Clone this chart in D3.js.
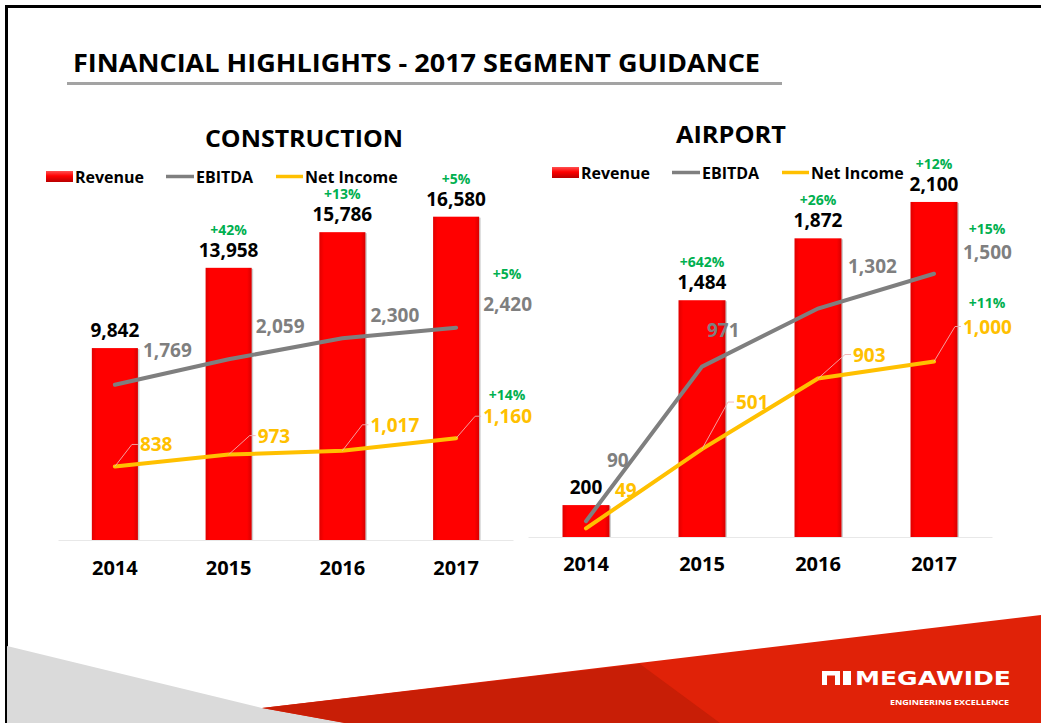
<!DOCTYPE html>
<html>
<head>
<meta charset="utf-8">
<script src="https://cdn.jsdelivr.net/npm/d3@7"></script>
<style>
html, body { margin: 0; padding: 0; background: #fff; }
svg { display: block; }
</style>
</head>
<body>
<svg id="slide" width="1041" height="723"></svg>
<script>
// values
var years = ["2014", "2015", "2016", "2017"];

var conRevenue = [9842, 13958, 15786, 16580];
var conEbitda = [1769, 2059, 2300, 2420];
var conNetIncome = [838, 973, 1017, 1160];
var conRevenueGrowth = ["", "+42%", "+13%", "+5%"];
var conEbitdaGrowth = ["", "", "", "+5%"];
var conNetGrowth = ["", "", "", "+14%"];

var airRevenue = [200, 1484, 1872, 2100];
var airEbitda = [90, 971, 1302, 1500];
var airNetIncome = [49, 501, 903, 1000];
var airRevenueGrowth = ["", "+642%", "+26%", "+12%"];
var airEbitdaGrowth = ["", "", "", "+15%"];
var airNetGrowth = ["", "", "", "+11%"];

var legendNames = ["Revenue", "EBITDA", "Net Income"];

var FONT = "'Open Sans', 'Liberation Sans', sans-serif";
var RED = "#ff0000", GRAY = "#7f7f7f", GOLD = "#ffc000", GREEN = "#00b050";
var fmt = d3.format(",");

var svg = d3.select("#slide").attr("font-family", FONT);

// gradients for the bars
var defs = svg.append("defs");
var hg = defs.append("linearGradient").attr("id", "barGrad").attr("x1", 0).attr("x2", 1).attr("y1", 0).attr("y2", 0);
hg.append("stop").attr("offset", "0%").attr("stop-color", "#e00000");
hg.append("stop").attr("offset", "10%").attr("stop-color", RED);
hg.append("stop").attr("offset", "90%").attr("stop-color", RED);
hg.append("stop").attr("offset", "100%").attr("stop-color", "#d80000");
var vg = defs.append("linearGradient").attr("id", "swatchGrad").attr("x1", 0).attr("x2", 0).attr("y1", 0).attr("y2", 1);
vg.append("stop").attr("offset", "0%").attr("stop-color", "#ff5050");
vg.append("stop").attr("offset", "45%").attr("stop-color", RED);
vg.append("stop").attr("offset", "100%").attr("stop-color", "#b80000");

// slide frame
svg.append("path").attr("d", "M6.5,723V6.5H1041")
	.attr("fill", "none").attr("stroke", "#000").attr("stroke-width", 3);

// bottom decoration
svg.append("path").attr("d", "M7,646L262,708L345,723L7,723Z").attr("fill", "#dadada");
svg.append("path").attr("d", "M262,708L1041,615L1041,723L345,723Z").attr("fill", "#e02208");
svg.append("path").attr("d", "M262,708L640,664L720,723L345,723Z").attr("fill", "#c81e06");

// logo
var logo = svg.append("g").attr("fill", "#fff");
logo.append("path").attr("d", "M822,671H840V685H835V675.5H827V685H822Z");
logo.append("rect").attr("x", 843).attr("y", 671).attr("width", 8).attr("height", 14);
logo.append("text").attr("x", 855).attr("y", 685).attr("font-family", "'DejaVu Sans', sans-serif")
	.attr("font-size", 19).attr("font-weight", 700)
	.attr("textLength", 156).attr("lengthAdjust", "spacingAndGlyphs").text("MEGAWIDE");
logo.append("text").attr("x", 890).attr("y", 704.5).attr("font-size", 7.5).attr("font-weight", 700)
	.attr("textLength", 119).attr("lengthAdjust", "spacingAndGlyphs").text("ENGINEERING EXCELLENCE");

// slide title
svg.append("text").attr("x", 73).attr("y", 72).attr("font-size", 24.5).attr("font-weight", 700)
	.attr("textLength", 687).attr("lengthAdjust", "spacingAndGlyphs")
	.text("FINANCIAL HIGHLIGHTS - 2017 SEGMENT GUIDANCE");
svg.append("line").attr("x1", 67).attr("x2", 782).attr("y1", 83.5).attr("y2", 83.5)
	.attr("stroke", "#a3a3a3").attr("stroke-width", 3);

var charts = [
	{
		title: "CONSTRUCTION", titleX: 205, titleY: 147, titleLen: 198,
		legendX: 46, legendY: 176.5,
		xRange: [58, 513], baseY: 540, topY: 189, revMax: 18000, lineMax: 4000, axisPad: 21,
		revenue: conRevenue, ebitda: conEbitda, net: conNetIncome,
		revGrowth: conRevenueGrowth, ebitdaGrowth: conEbitdaGrowth, netGrowth: conNetGrowth,
		// label nudges from each point: [dx to text start, dy to baseline]
		ebitdaNudge: [[28, -28], [27, -26], [28, -16], [27, -17]],
		netNudge: [[25, -15], [29, -12], [28, -19], [27, -15]],
		netLeader: [true, true, true, true],
		ebitdaGrowthDy: -32, netGrowthDy: -23
	},
	{
		title: "AIRPORT", titleX: 676, titleY: 143, titleLen: 110,
		legendX: 552, legendY: 172.5,
		xRange: [528, 992], baseY: 537, topY: 186, revMax: 2200, lineMax: 2000, axisPad: 20,
		revenue: airRevenue, ebitda: airEbitda, net: airNetIncome,
		revGrowth: airRevenueGrowth, ebitdaGrowth: airEbitdaGrowth, netGrowth: airNetGrowth,
		ebitdaNudge: [[21, -54], [5, -30], [30, -35], [29, -15]],
		netNudge: [[29, -31], [34, -40], [35, -17], [29, -28]],
		netLeader: [false, true, true, true],
		ebitdaGrowthDy: -25, netGrowthDy: -26
	}
];

charts.forEach(drawChart);

function drawChart(cfg) {
	var g = svg.append("g");

	var x = d3.scaleBand().domain(years).range(cfg.xRange)
		.paddingInner(0.595).paddingOuter(0.2975);
	var yRev = d3.scaleLinear().domain([0, cfg.revMax]).range([cfg.baseY, cfg.topY]);
	var yLine = d3.scaleLinear().domain([0, cfg.lineMax]).range([cfg.baseY, cfg.topY]);
	var cx = function(i) { return x(years[i]) + x.bandwidth() / 2; };

	// chart title
	g.append("text").attr("x", cfg.titleX).attr("y", cfg.titleY)
		.attr("font-size", 22.5).attr("font-weight", 700)
		.attr("textLength", cfg.titleLen).attr("lengthAdjust", "spacingAndGlyphs")
		.text(cfg.title);

	// legend
	var lg = g.append("g").attr("transform", "translate(" + cfg.legendX + "," + cfg.legendY + ")")
		.attr("font-size", 16).attr("font-weight", 700);
	lg.append("rect").attr("x", 0).attr("y", -5.5).attr("width", 27).attr("height", 11)
		.attr("fill", "url(#swatchGrad)");
	lg.append("text").attr("x", 29).attr("y", 6).text(legendNames[0]);
	lg.append("line").attr("x1", 120).attr("x2", 148).attr("y1", 0).attr("y2", 0)
		.attr("stroke", GRAY).attr("stroke-width", 3.5);
	lg.append("text").attr("x", 150).attr("y", 6).text(legendNames[1]);
	lg.append("line").attr("x1", 230).attr("x2", 257).attr("y1", 0).attr("y2", 0)
		.attr("stroke", GOLD).attr("stroke-width", 3.5);
	lg.append("text").attr("x", 259).attr("y", 6).text(legendNames[2]);

	// category axis
	var ax = g.append("g").attr("transform", "translate(0," + cfg.baseY + ")")
		.call(d3.axisBottom(x).tickSize(0).tickPadding(cfg.axisPad));
	ax.attr("font-family", FONT).attr("font-size", 20).attr("font-weight", 700);
	ax.select(".domain").attr("stroke", "#e8e8e8");
	ax.selectAll("text").attr("fill", "#000");

	// revenue bars
	g.selectAll(".shadow").data(cfg.revenue).enter().append("rect")
		.attr("class", "shadow")
		.attr("x", function(d, i) { return x(years[i]) + 1.5; })
		.attr("y", function(d) { return yRev(d) + 1; })
		.attr("width", x.bandwidth())
		.attr("height", function(d) { return cfg.baseY - yRev(d) - 1; })
		.attr("fill", "#a0a0a0").attr("opacity", 0.5);
	g.selectAll(".bar").data(cfg.revenue).enter().append("rect")
		.attr("class", "bar")
		.attr("x", function(d, i) { return x(years[i]); })
		.attr("y", function(d) { return yRev(d); })
		.attr("width", x.bandwidth())
		.attr("height", function(d) { return cfg.baseY - yRev(d); })
		.attr("fill", "url(#barGrad)");

	// lines
	var line = d3.line().x(function(d, i) { return cx(i); }).y(function(d) { return yLine(d); });
	g.append("path").datum(cfg.ebitda).attr("d", line)
		.attr("fill", "none").attr("stroke", GRAY).attr("stroke-width", 4).attr("stroke-linecap", "round");
	g.append("path").datum(cfg.net).attr("d", line)
		.attr("fill", "none").attr("stroke", GOLD).attr("stroke-width", 4).attr("stroke-linecap", "round");

	// revenue labels
	var valueFont = 19;
	g.selectAll(".revLabel").data(cfg.revenue).enter().append("text")
		.attr("x", function(d, i) { return cx(i); })
		.attr("y", function(d) { return yRev(d) - 11; })
		.attr("text-anchor", "middle").attr("font-size", valueFont).attr("font-weight", 700)
		.attr("fill", "#000").text(fmt);
	g.selectAll(".revGrowth").data(cfg.revGrowth).enter().append("text")
		.attr("x", function(d, i) { return cx(i); })
		.attr("y", function(d, i) { return yRev(cfg.revenue[i]) - 33; })
		.attr("text-anchor", "middle").attr("font-size", 14).attr("font-weight", 700)
		.attr("fill", GREEN).text(function(d) { return d; });

	// EBITDA labels
	g.selectAll(".ebLabel").data(cfg.ebitda).enter().append("text")
		.attr("x", function(d, i) { return cx(i) + cfg.ebitdaNudge[i][0]; })
		.attr("y", function(d, i) { return yLine(d) + cfg.ebitdaNudge[i][1]; })
		.attr("font-size", valueFont).attr("font-weight", 700).attr("fill", GRAY).text(fmt);
	g.selectAll(".ebGrowth").data(cfg.ebitdaGrowth).enter().append("text")
		.attr("x", function(d, i) { return cx(i) + cfg.ebitdaNudge[i][0] + 24; })
		.attr("y", function(d, i) { return yLine(cfg.ebitda[i]) + cfg.ebitdaNudge[i][1] + cfg.ebitdaGrowthDy; })
		.attr("text-anchor", "middle").attr("font-size", 14).attr("font-weight", 700)
		.attr("fill", GREEN).text(function(d) { return d; });

	// net income leaders and labels
	var leaderPts = cfg.net.map(function(v, i) { return { v: v, i: i }; })
		.filter(function(d) { return cfg.netLeader[d.i]; });
	g.selectAll(".leader").data(leaderPts).enter().append("polyline")
		.attr("points", function(d) {
			var px = cx(d.i), py = yLine(d.v);
			var lx = px + cfg.netNudge[d.i][0], ly = py + cfg.netNudge[d.i][1] - 7;
			return [px, py, lx - 8, ly, lx - 2, ly].join(",");
		})
		.attr("fill", "none").attr("stroke", "#f0b0b0").attr("stroke-width", 0.9);
	g.selectAll(".netLabel").data(cfg.net).enter().append("text")
		.attr("x", function(d, i) { return cx(i) + cfg.netNudge[i][0]; })
		.attr("y", function(d, i) { return yLine(d) + cfg.netNudge[i][1]; })
		.attr("font-size", valueFont).attr("font-weight", 700).attr("fill", GOLD).text(fmt);
	g.selectAll(".netGrowth").data(cfg.netGrowth).enter().append("text")
		.attr("x", function(d, i) { return cx(i) + cfg.netNudge[i][0] + 24; })
		.attr("y", function(d, i) { return yLine(cfg.net[i]) + cfg.netNudge[i][1] + cfg.netGrowthDy; })
		.attr("text-anchor", "middle").attr("font-size", 14).attr("font-weight", 700)
		.attr("fill", GREEN).text(function(d) { return d; });
}
</script>
</body>
</html>
